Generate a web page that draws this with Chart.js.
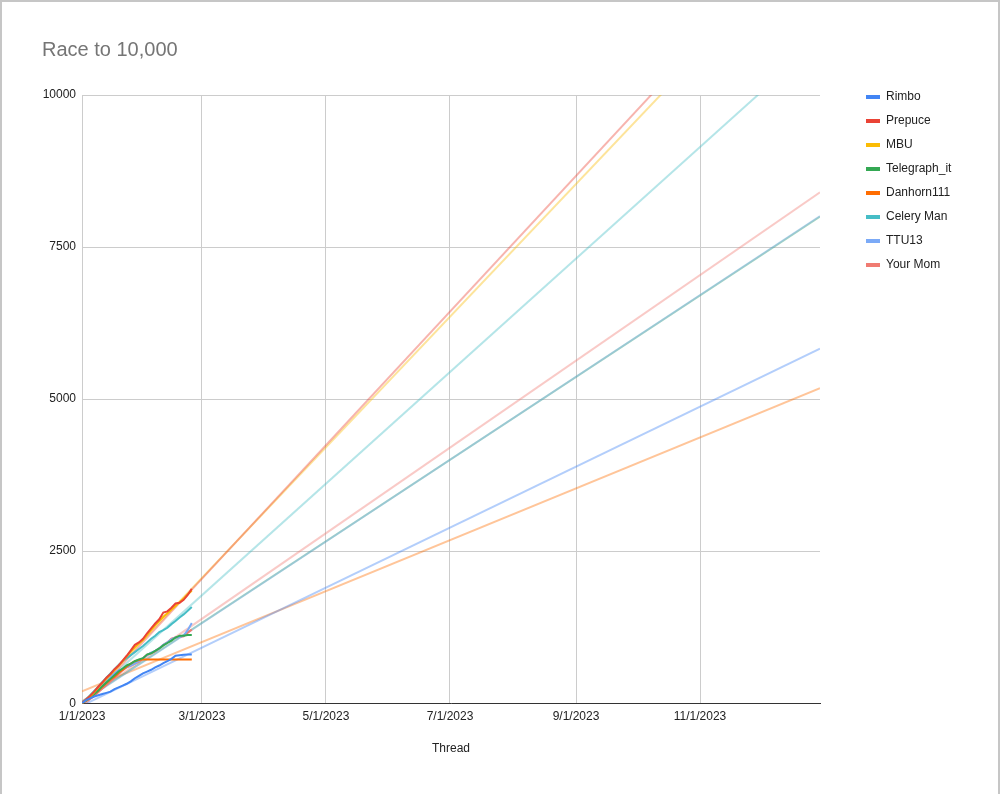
<!DOCTYPE html>
<html>
<head>
<meta charset="utf-8">
<title>Race to 10,000</title>
<script src="https://cdn.jsdelivr.net/npm/chart.js@4.4.0/dist/chart.umd.min.js"></script>
<style>
    html, body { margin: 0; padding: 0; background: #fff; }
    #wrap { position: relative; width: 1000px; height: 794px; }
    #frame {
        position: absolute; left: 0; top: 0; width: 1000px; height: 794px;
        box-sizing: border-box; border: 2px solid #c6c6c6; border-bottom: none;
        pointer-events: none;
    }
</style>
</head>
<body>
<div id="wrap">
    <canvas id="raceChart" width="1000" height="794"></canvas>
    <div id="frame"></div>
</div>
<script>
// thread counts, every second day
const threadDates = ['1/1/2023', '1/3/2023', '1/5/2023', '1/7/2023', '1/9/2023', '1/11/2023', '1/13/2023',
    '1/15/2023', '1/17/2023', '1/19/2023', '1/21/2023', '1/23/2023', '1/25/2023', '1/27/2023', '1/29/2023',
    '1/31/2023', '2/2/2023', '2/4/2023', '2/6/2023', '2/8/2023', '2/10/2023', '2/12/2023', '2/14/2023',
    '2/16/2023', '2/18/2023', '2/20/2023', '2/22/2023', '2/24/2023'];

const seriesNames = ['Rimbo', 'Prepuce', 'MBU', 'Telegraph_it', 'Danhorn111', 'Celery Man', 'TTU13', 'Your Mom'];
const seriesColors = ['#4285f4', '#ea4335', '#fbbc04', '#34a853', '#ff6d01', '#46bdc6', '#7baaf7', '#f07b72'];

const rimbo = [0, 50, 80, 110, 130, 150, 170, 190, 230, 260, 290, 320, 360, 410, 450, 490, 520, 550, 590, 620, 660, 690, 730, 780, 790, 795, 800, 800];
const prepuce = [0, 60, 120, 190, 270, 340, 420, 480, 560, 620, 700, 780, 870, 960, 1000, 1060, 1150, 1230, 1310, 1380, 1490, 1510, 1570, 1640, 1650, 1700, 1780, 1880];
const mbu = [0, 50, 110, 180, 260, 330, 400, 470, 540, 610, 690, 770, 850, 920, 980, 1040, 1120, 1200, 1280, 1350, 1420, 1480, 1540, 1600, 1660, 1720, 1790, 1850];
const telegraph = [0, 40, 90, 150, 210, 280, 340, 400, 460, 520, 570, 620, 650, 690, 720, 740, 800, 820, 860, 900, 950, 990, 1030, 1080, 1110, 1110, 1120, 1120];
const danhorn = [0, 40, 90, 150, 210, 270, 330, 390, 440, 500, 550, 600, 650, 690, 710, 720, 720, 720, 720, 720, 720, 720, 720, 720, 720, 720, 720, 720];
const celery = [0, 60, 130, 200, 270, 350, 420, 490, 560, 630, 690, 740, 790, 840, 890, 940, 1000, 1060, 1110, 1170, 1200, 1240, 1300, 1350, 1410, 1460, 1520, 1580];
const ttu = [0, 50, 110, 170, 240, 300, 360, 430, 490, 540, 560, 590, 620, 650, 690, 740, 790, 830, 860, 900, 960, 1000, 1050, 1080, 1090, 1110, 1200, 1320];
const yourMom = [0, 30, 70, 120, 180, 240, 300, 360, 420, 480, 540, 590, 620, 650, 680, 740, 800, 820, 850, 900, 960, 1000, 1060, 1080, 1090, 1100, 1160, 1210];

const seriesValues = [rimbo, prepuce, mbu, telegraph, danhorn, celery, ttu, yourMom];

// linear trendlines, value at the start and at the end of the axis
const trendStart = [-40, -77, -16, 24, 194, 0, 15, 27];
const trendEnd = [5830, 12990, 12760, 8000, 5180, 10920, 8010, 8400];

const axisStart = '1/1/2023';
const axisEnd = '12/30/2023';
const tickLabels = ['1/1/2023', '3/1/2023', '5/1/2023', '7/1/2023', '9/1/2023', '11/1/2023'];

function dayOf(label) {
    const [m, d, y] = label.split('/').map(Number);
    return (Date.UTC(y, m - 1, d) - Date.UTC(2023, 0, 1)) / 86400000;
}

function fade(hex, a) {
    const n = parseInt(hex.slice(1), 16);
    return `rgba(${n >> 16}, ${(n >> 8) & 255}, ${n & 255}, ${a})`;
}

const threadDays = threadDates.map(dayOf);
const tickDays = tickLabels.map(dayOf);
const xMin = dayOf(axisStart);
const xMax = dayOf(axisEnd);

const datasets = [];
seriesNames.forEach((name, i) => {
    datasets.push({
        label: name,
        data: seriesValues[i].map((v, j) => ({ x: threadDays[j], y: v })),
        borderColor: seriesColors[i],
        backgroundColor: seriesColors[i],
        borderWidth: 2,
        pointRadius: 0,
        pointHoverRadius: 0,
        tension: 0,
        order: 0
    });
});
seriesNames.forEach((name, i) => {
    datasets.push({
        label: name + ' trend',
        data: [{ x: xMin, y: trendStart[i] }, { x: xMax, y: trendEnd[i] }],
        borderColor: fade(seriesColors[i], 0.4),
        backgroundColor: fade(seriesColors[i], 0.4),
        borderWidth: 2,
        pointRadius: 0,
        pointHoverRadius: 0,
        // TTU13's trend sits on top of Telegraph_it's, as in the original
        order: name === 'TTU13' ? 1 : 2
    });
});

// legend sits in a fixed column to the right of the plot
const legendPlace = {
    id: 'legendPlace',
    beforeInit(chart) {
        const fit = chart.legend.fit;
        chart.legend.fit = function () {
            fit.call(this);
            this.width = 180;
        };
    },
    afterLayout(chart) {
        chart.legend.left = 854;
        chart.legend.top = 79;
    }
};

Chart.defaults.font.family = 'Arial, "Liberation Sans", sans-serif';
Chart.defaults.font.size = 12;
Chart.defaults.color = '#222';

new Chart(document.getElementById('raceChart').getContext('2d'), {
    type: 'line',
    data: { datasets: datasets },
    plugins: [legendPlace],
    options: {
        responsive: false,
        animation: false,
        devicePixelRatio: 1,
        layout: { padding: { left: 42, right: 0, top: 0, bottom: 0 } },
        plugins: {
            title: {
                display: true,
                text: 'Race to 10,000',
                align: 'start',
                color: '#757575',
                font: { size: 20, weight: 'normal' },
                padding: { top: 38, bottom: 33 }
            },
            legend: {
                position: 'right',
                align: 'start',
                labels: {
                    boxWidth: 14,
                    boxHeight: 4,
                    padding: 12,
                    color: '#222',
                    generateLabels: (chart) => Chart.defaults.plugins.legend.labels.generateLabels(chart)
                        .filter(item => item.datasetIndex < seriesNames.length)
                        .sort((a, b) => a.datasetIndex - b.datasetIndex)
                        .map(item => Object.assign(item, { lineWidth: 0 }))
                }
            },
            tooltip: { enabled: false }
        },
        scales: {
            x: {
                type: 'linear',
                min: xMin,
                max: xMax,
                afterBuildTicks: (scale) => {
                    scale.ticks = tickDays.map(v => ({ value: v }));
                },
                ticks: {
                    padding: 6,
                    maxRotation: 0,
                    autoSkip: false,
                    color: '#222',
                    callback: (value, index) => tickLabels[index]
                },
                grid: { color: '#cccccc', drawTicks: false },
                border: { color: '#333', width: 1 },
                title: {
                    display: true,
                    text: 'Thread',
                    color: '#222',
                    font: { size: 12 },
                    padding: { top: 12, bottom: 38 }
                }
            },
            y: {
                min: 0,
                max: 10000,
                afterFit: (scale) => {
                    scale.width = 40;
                },
                ticks: {
                    stepSize: 2500,
                    padding: 6,
                    color: '#222',
                    callback: (value) => String(value)
                },
                grid: { color: '#cccccc', drawTicks: false },
                border: { display: false }
            }
        }
    }
});
</script>
</body>
</html>
